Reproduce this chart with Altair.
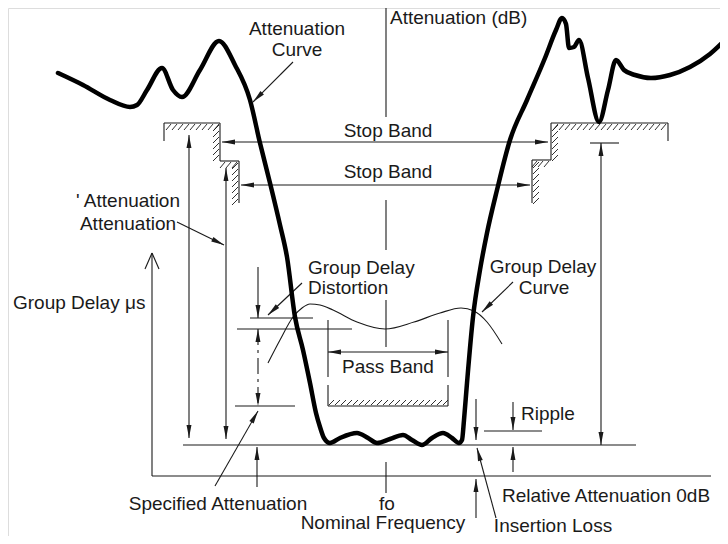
import math
import altair as alt
import pandas as pd

# ---------------- data (diagram units = page pixels) ----------------
# Attenuation curve (thick)
att_x = [58, 83, 110, 130, 137, 147, 162, 173, 182, 200, 219, 235, 250, 260, 270, 280, 287,
         295, 303, 310, 316, 320, 324, 330, 340, 357, 368, 377, 390, 403, 412, 422, 432, 443,
         452, 459, 462, 464, 467, 473, 480, 487, 497, 510, 527, 545, 556, 562, 566, 569, 574,
         579, 588, 599, 608, 616, 624, 635, 651, 670, 690, 710, 727]
att_y = [73, 85, 100, 107, 105, 90, 68, 90, 97, 70, 41, 65, 100, 143, 183, 225, 257,
         317, 350, 383, 413, 427, 438, 443, 438, 433, 438, 443, 439, 435, 440, 445, 438, 433,
         438, 443, 440, 420, 383, 317, 270, 233, 190, 140, 100, 58, 30, 18, 24, 48, 47,
         40, 78, 122, 90, 60, 70, 75, 78, 75, 67, 54, 38]

# Group delay curve (thin)
gd_x = [268, 280, 293, 302, 310, 320, 333, 357, 385, 414, 440, 461, 474, 487, 502]
gd_y = [363, 340, 317, 308, 304, 305, 310, 322, 329, 322, 313, 308, 311, 322, 344]

# plain segments (x1, y1, x2, y2)
plain_lines = [
    (152, 476, 711, 476), (152, 476, 152, 253),          # group delay axes
    (145, 269, 152, 253), (159, 269, 152, 253),          # open arrow head
    (183, 445, 636, 445),                                # insertion loss level
    (250, 318, 313, 318), (237, 329, 352, 329), (235, 406, 295, 406),
    (484, 431, 542, 431), (590, 143, 619, 143),
    (328, 320, 328, 377), (448, 320, 448, 377),          # pass band limits
    (386, 5, 386, 117), (386, 200, 386, 250),            # fo centre line
    (386, 300, 386, 347), (386, 462, 386, 493),
]

# dimension arrows (x1, y1, x2, y2, head at start, head at end)
dim_arrows = [
    (222, 142, 548, 142, 1, 1), (241, 185, 530, 185, 1, 1), (328, 352, 448, 352, 1, 1),
    (189, 135, 189, 438, 1, 1), (226, 168, 226, 439, 1, 1), (601, 143, 601, 445, 1, 1),
    (258, 267, 258, 318, 0, 1), (257, 487, 257, 447, 0, 1),
    (476, 399, 476, 440, 0, 1), (476, 518, 476, 479, 0, 1),
    (513, 402, 513, 430, 0, 1), (513, 472, 513, 447, 0, 1),
]
dashdot_arrows = [(258, 329, 258, 406, 1, 1)]

# leader lines (text end -> arrow tip)
leaders = [(293, 62, 253, 102), (177, 222, 224, 245), (302, 283, 268, 315),
           (513, 282, 482, 312), (215, 486, 258, 411), (496, 518, 477, 448)]

# mask outlines
mask_left = [(164, 141), (164, 123), (220, 123), (220, 161), (239, 161), (239, 203)]
mask_right = [(532, 203), (532, 160), (551, 160), (551, 123), (668, 123), (668, 141)]
mask_pass = [(328, 385), (328, 406), (448, 406), (448, 385)]

# hatch runs: (start, end, fixed, orientation, side)
hatch_runs = [
    (168, 218, 123, "h", 1), (125, 159, 220, "v", -1), (222, 238, 161, "h", 1), (163, 201, 239, "v", -1),
    (555, 666, 123, "h", 1), (125, 158, 551, "v", 1), (534, 550, 160, "h", 1), (162, 201, 532, "v", 1),
    (331, 446, 406, "h", -1),
]

labels_center = [
    ("Attenuation", 297, 35), ("Curve", 297, 56), ("Stop Band", 388, 137), ("Stop Band", 388, 178),
    ("' Attenuation", 128, 207), ("Attenuation", 128, 230), ("Group Delay", 543, 273),
    ("Curve", 544, 294), ("Pass Band", 388, 373), ("Specified Attenuation", 218, 510),
    ("fo", 387, 510), ("Nominal Frequency", 383, 529), ("Insertion Loss", 553, 532),
]
labels_left = [
    ("Attenuation (dB)", 390, 24), ("Group Delay \u03bcs", 13, 309), ("Group Delay", 308, 274),
    ("Distortion", 308, 294), ("Ripple", 521, 420), ("Relative Attenuation 0dB", 502, 502),
]

# ---------------- build tables ----------------
def heading(x1, y1, x2, y2):
    return math.degrees(math.atan2(x2 - x1, -(y2 - y1))) % 360

seg_rows, head_rows, dd_rows = [], [], []
for (x1, y1, x2, y2) in plain_lines:
    seg_rows.append(dict(x=x1, y=y1, x2=x2, y2=y2))
for (x1, y1, x2, y2, hs, he) in dim_arrows:
    seg_rows.append(dict(x=x1, y=y1, x2=x2, y2=y2))
    if hs:
        head_rows.append(dict(x=x1, y=y1, a=heading(x2, y2, x1, y1)))
    if he:
        head_rows.append(dict(x=x2, y=y2, a=heading(x1, y1, x2, y2)))
for (x1, y1, x2, y2, hs, he) in dashdot_arrows:
    dd_rows.append(dict(x=x1, y=y1, x2=x2, y2=y2))
    if hs:
        head_rows.append(dict(x=x1, y=y1, a=heading(x2, y2, x1, y1)))
    if he:
        head_rows.append(dict(x=x2, y=y2, a=heading(x1, y1, x2, y2)))
for (x1, y1, x2, y2) in leaders:
    seg_rows.append(dict(x=x1, y=y1, x2=x2, y2=y2))
    head_rows.append(dict(x=x2, y=y2, a=heading(x1, y1, x2, y2)))

for pts in (mask_left, mask_right, mask_pass):
    for (a, b), (c, d) in zip(pts[:-1], pts[1:]):
        seg_rows.append(dict(x=a, y=b, x2=c, y2=d))

hatch_rows = []
for (s, e, f, o, side) in hatch_runs:
    p = s
    while p <= e:
        if o == "h":
            if side > 0:
                hatch_rows.append(dict(x=p - 2, y=f + 7, x2=p + 3, y2=f + 1))
            else:
                hatch_rows.append(dict(x=p - 2, y=f - 1, x2=p + 3, y2=f - 6))
        else:
            if side < 0:
                hatch_rows.append(dict(x=f - 7, y=p + 6, x2=f - 1, y2=p))
            else:
                hatch_rows.append(dict(x=f + 1, y=p + 6, x2=f + 7, y2=p))
        p += 6

seg_df = pd.DataFrame(seg_rows)
hatch_df = pd.DataFrame(hatch_rows)
dd_df = pd.DataFrame(dd_rows)
head_df = pd.DataFrame(head_rows)
att_df = pd.DataFrame({"x": att_x, "y": att_y, "o": range(len(att_x))})
gd_df = pd.DataFrame({"x": gd_x, "y": gd_y, "o": range(len(gd_x))})
tc_df = pd.DataFrame(labels_center, columns=["t", "x", "y"])
tl_df = pd.DataFrame(labels_left, columns=["t", "x", "y"])

# ---------------- chart ----------------
X = alt.X("x:Q", scale=alt.Scale(domain=[8, 720], nice=False, zero=False), axis=None)
Y = alt.Y("y:Q", scale=alt.Scale(domain=[8, 536], nice=False, zero=False, reverse=True), axis=None)
INK = "#1a1a1a"
FONT = "Liberation Sans"
FS = 19

segs = alt.Chart(seg_df).mark_rule(color=INK, strokeWidth=1.1).encode(x=X, y=Y, x2="x2:Q", y2="y2:Q")
hatch = alt.Chart(hatch_df).mark_rule(color=INK, strokeWidth=0.9).encode(x=X, y=Y, x2="x2:Q", y2="y2:Q")
dd = alt.Chart(dd_df).mark_rule(color=INK, strokeWidth=1.1, strokeDash=[16, 5, 3, 5]).encode(
    x=X, y=Y, x2="x2:Q", y2="y2:Q")
heads = alt.Chart(head_df).mark_point(
    shape="M0,0L-0.38,2L0.38,2Z", filled=True, size=169, color=INK, opacity=1, strokeWidth=0
).encode(x=X, y=Y, angle=alt.Angle("a:Q", scale=None))
att = alt.Chart(att_df).mark_line(color="#000", strokeWidth=4.5, interpolate="monotone",
                                  strokeJoin="round", strokeCap="round").encode(x=X, y=Y, order="o:Q")
gd = alt.Chart(gd_df).mark_line(color=INK, strokeWidth=1.1, interpolate="monotone").encode(
    x=X, y=Y, order="o:Q")
tc = alt.Chart(tc_df).mark_text(font=FONT, fontSize=FS, align="center", baseline="alphabetic",
                                color=INK).encode(x=X, y=Y, text="t:N")
tl = alt.Chart(tl_df).mark_text(font=FONT, fontSize=FS, align="left", baseline="alphabetic",
                                color=INK).encode(x=X, y=Y, text="t:N")

chart = alt.layer(hatch, segs, dd, gd, att, heads, tc, tl).properties(
    width=712, height=528, padding=0, autosize=alt.AutoSizeParams(type="none")
).configure_view(stroke=None).configure(background="white")

chart.save("out.html", embed_options={"renderer": "svg", "actions": False})
